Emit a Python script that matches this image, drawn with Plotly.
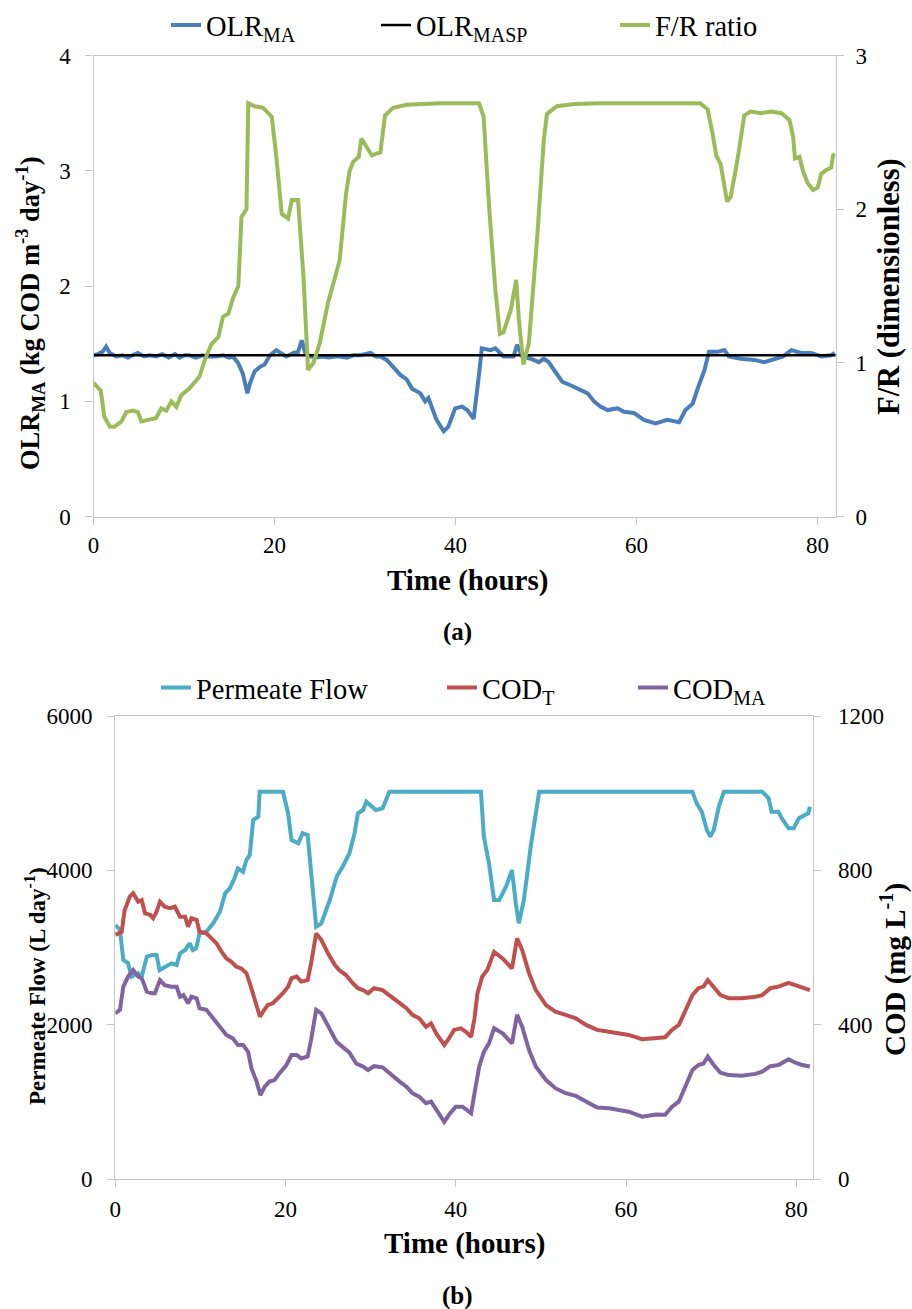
import plotly.graph_objects as go

# ---------------- Panel (a): loading rate and feed/recycle ratio ----------------
t_olr = [0.0, 0.5, 1.0, 1.4, 1.8, 2.5, 3.2, 3.8, 4.3, 4.9, 5.6, 6.2, 6.9, 7.6, 8.3, 9.0, 9.5,
         10.1, 10.6, 11.3, 12.0, 12.7, 13.6, 14.3, 15.0, 15.4, 16.0, 16.5, 17.0, 17.3, 17.8,
         18.4, 18.9, 19.5, 20.2, 20.8, 21.3, 22.1, 22.6, 23.0, 23.4, 23.9, 24.6, 25.3, 26.0,
         26.7, 27.2, 28.0, 28.7, 29.5, 30.6, 31.2, 31.7, 32.4, 33.1, 33.9, 34.6, 35.2, 36.1,
         36.65, 37.0, 37.4, 37.9, 38.7, 39.2, 39.95, 40.7, 41.3, 42.0, 42.6, 42.9, 43.85, 44.4,
         45.3, 46.4, 46.8, 47.35, 48.3, 49.2, 49.75, 50.3, 50.9, 51.8, 52.7, 53.8, 54.6, 55.3,
         56.0, 56.8, 57.9, 58.6, 59.7, 60.8, 62.1, 63.4, 64.7, 65.4, 66.2, 66.7, 67.5, 68.0,
         68.96, 69.7, 70.2, 71.5, 73.0, 74.1, 75.2, 76.2, 77.1, 78.2, 79.3, 80.4, 81.5, 81.9]
olr_ma = [1.40, 1.41, 1.43, 1.475, 1.42, 1.39, 1.40, 1.38, 1.40, 1.42, 1.39, 1.40, 1.39, 1.41,
          1.38, 1.41, 1.38, 1.40, 1.40, 1.38, 1.40, 1.39, 1.39, 1.40, 1.38, 1.39, 1.33, 1.24,
          1.07, 1.16, 1.26, 1.30, 1.32, 1.40, 1.445, 1.42, 1.39, 1.42, 1.43, 1.53, 1.42, 1.39,
          1.38, 1.39, 1.38, 1.39, 1.39, 1.38, 1.40, 1.40, 1.42, 1.39, 1.39, 1.36, 1.30, 1.23,
          1.19, 1.11, 1.07, 1.00, 1.03, 0.94, 0.84, 0.74, 0.78, 0.94, 0.955, 0.925, 0.85, 1.24,
          1.46, 1.445, 1.46, 1.39, 1.39, 1.49, 1.39, 1.37, 1.34, 1.37, 1.34, 1.27, 1.17, 1.14,
          1.10, 1.07, 1.00, 0.955, 0.925, 0.94, 0.91, 0.90, 0.84, 0.81, 0.84, 0.82, 0.925, 0.98,
          1.10, 1.27, 1.43, 1.43, 1.445, 1.39, 1.37, 1.36, 1.34, 1.37, 1.39, 1.445, 1.42, 1.42,
          1.39, 1.40, 1.42]

t_sp = [0.0, 82.0]
olr_sp = [1.4, 1.4]

t_fr = [0.0, 0.8, 1.2, 1.8, 2.3, 3.1, 3.6, 4.35, 4.9, 5.3, 6.0, 6.9, 7.5, 8.05, 8.6, 9.15, 9.7,
        10.6, 11.7, 12.3, 13.0, 13.8, 14.3, 14.9, 15.4, 16.0, 16.35, 16.9, 17.1, 17.8, 18.75,
        19.7, 20.2, 20.8, 21.5, 21.9, 22.6, 23.2, 23.7, 24.3, 25.0, 25.9, 26.7, 27.2, 27.9,
        28.3, 28.7, 29.3, 29.6, 30.75, 31.7, 32.2, 33.1, 34.6, 38.3, 42.6, 43.1, 43.7, 44.4,
        44.9, 45.3, 46.1, 46.7, 47.0, 47.5, 48.1, 49.0, 49.75, 50.1, 51.2, 53.1, 56.0, 67.0,
        67.85, 68.4, 68.8, 69.3, 69.7, 70.0, 70.4, 71.2, 71.9, 72.6, 73.8, 74.9, 76.0, 76.9,
        77.3, 77.5, 78.0, 78.4, 78.9, 79.5, 80.0, 80.4, 80.95, 81.5, 81.7, 81.9]
fr_ratio = [0.87, 0.82, 0.65, 0.585, 0.585, 0.62, 0.68, 0.69, 0.68, 0.62, 0.63, 0.64, 0.705, 0.69,
            0.75, 0.715, 0.79, 0.835, 0.91, 1.02, 1.12, 1.17, 1.30, 1.32, 1.42, 1.50, 1.95, 2.00,
            2.69, 2.67, 2.66, 2.60, 2.34, 1.97, 1.94, 2.06, 2.06, 1.56, 0.955, 1.00, 1.13, 1.39,
            1.56, 1.67, 2.10, 2.25, 2.31, 2.34, 2.46, 2.35, 2.37, 2.61, 2.66, 2.68, 2.69, 2.69,
            2.60, 2.02, 1.475, 1.19, 1.20, 1.345, 1.54, 1.28, 0.99, 1.13, 1.80, 2.45, 2.62, 2.67,
            2.685, 2.69, 2.69, 2.65, 2.49, 2.35, 2.29, 2.15, 2.05, 2.08, 2.34, 2.61, 2.635, 2.625,
            2.635, 2.625, 2.58, 2.47, 2.33, 2.34, 2.245, 2.17, 2.125, 2.14, 2.23, 2.255, 2.27,
            2.35, 2.36]

# ---------------- Panel (b): permeate flow and COD ----------------
t_flow = [0.0, 0.55, 0.94, 1.5, 1.9, 2.7, 3.1, 3.7, 4.3, 4.85, 5.2, 5.8, 6.6, 7.2, 7.6, 8.2, 8.75,
          9.1, 9.5, 9.9, 10.7, 11.5, 12.3, 12.9, 13.45, 14.0, 14.4, 15.0, 15.4, 15.8, 16.2, 16.8,
          16.96, 19.7, 20.3, 20.7, 21.5, 22.0, 22.6, 23.6, 24.2, 25.2, 26.0, 26.7, 27.5, 28.1,
          28.5, 29.1, 29.5, 30.6, 31.4, 32.2, 42.95, 43.3, 43.9, 44.5, 45.1, 45.9, 46.6, 47.05,
          47.4, 48.0, 48.8, 49.8, 67.8, 68.3, 68.9, 69.5, 69.9, 70.3, 70.9, 71.5, 76.0, 76.75,
          77.1, 77.9, 78.3, 79.1, 79.7, 80.3, 81.05, 81.4, 81.6]
permeate_flow = [3293, 3229, 2840, 2797, 2624, 2668, 2624, 2883, 2905, 2905, 2710, 2753, 2797,
                 2775, 2927, 2969, 3056, 2969, 2991, 3186, 3206, 3315, 3465, 3704, 3769, 3898,
                 4027, 3983, 4135, 4200, 4653, 4696, 5020, 5020, 4740, 4394, 4351, 4481, 4459,
                 3272, 3315, 3617, 3919, 4048, 4220, 4480, 4740, 4782, 4890, 4782, 4804, 5020,
                 5020, 4437, 4092, 3617, 3617, 3789, 4005, 3574, 3315, 3617, 4307, 5020, 5020,
                 4869, 4760, 4523, 4437, 4523, 4825, 5020, 5020, 4934, 4760, 4760, 4675, 4545,
                 4545, 4675, 4718, 4740, 4825]

t_cod = [0.0, 0.75, 1.1, 1.7, 2.1, 2.7, 3.1, 3.5, 4.1, 4.45, 4.85, 5.25, 5.8, 6.4, 7.0, 7.6, 8.2,
         8.55, 8.95, 9.55, 9.9, 10.7, 11.3, 11.9, 12.5, 13.05, 13.6, 14.2, 14.8, 15.4, 15.8, 16.4,
         17.0, 17.35, 17.9, 18.5, 19.1, 19.7, 20.3, 20.7, 21.3, 21.85, 22.6, 23.0, 23.6, 24.2,
         25.0, 25.8, 26.3, 27.1, 27.9, 28.5, 29.1, 29.7, 30.4, 31.4, 32.4, 33.4, 34.2, 34.9,
         35.7, 36.5, 37.1, 37.7, 38.65, 39.2, 39.8, 40.6, 41.2, 41.8, 42.2, 42.55, 43.1, 43.7,
         44.5, 45.5, 46.6, 47.2, 47.8, 48.6, 49.4, 50.6, 51.7, 52.9, 54.1, 55.3, 56.6, 58.0,
         59.2, 60.3, 61.9, 63.5, 64.6, 65.4, 66.2, 67.0, 67.8, 68.5, 69.1, 69.6, 70.3, 71.1,
         72.05, 73.6, 75.2, 76.0, 76.95, 77.9, 79.1, 79.9, 80.7, 81.6]
cod_t = [633, 641, 697, 732, 741, 719, 723, 689, 685, 676, 693, 719, 706, 702, 706, 680, 680,
         654, 676, 672, 641, 637, 624, 611, 589, 572, 564, 551, 546, 534, 508, 464, 421, 434,
         451, 456, 469, 482, 499, 521, 525, 512, 516, 559, 637, 620, 585, 555, 542, 529, 508,
         495, 490, 482, 495, 490, 473, 456, 443, 426, 417, 395, 404, 378, 348, 365, 387, 391,
         382, 369, 417, 482, 525, 542, 589, 572, 546, 624, 594, 534, 490, 451, 434, 426, 417,
         400, 387, 382, 378, 374, 363, 367, 368, 387, 400, 438, 477, 495, 499, 516, 499, 477,
         469, 469, 473, 477, 495, 499, 509, 503, 495, 490]

t_codma = [0.0, 0.55, 0.94, 1.5, 2.1, 2.7, 3.1, 3.7, 4.3, 4.65, 5.25, 5.8, 6.6, 7.2, 7.6, 8.0,
           8.55, 8.95, 9.55, 9.9, 10.7, 11.5, 12.3, 13.05, 13.8, 14.4, 15.0, 15.6, 16.0, 16.6,
           17.05, 17.55, 18.1, 18.7, 19.3, 20.1, 20.7, 21.3, 21.85, 22.6, 23.0, 23.6, 24.2, 25.0,
           26.0, 26.7, 27.5, 28.3, 29.1, 29.7, 30.4, 31.4, 32.4, 33.4, 34.2, 34.9, 35.7, 36.5,
           37.1, 37.7, 38.65, 39.2, 40.0, 40.8, 41.8, 42.2, 42.75, 43.3, 43.9, 44.5, 45.5, 46.6,
           47.2, 47.8, 48.6, 49.4, 50.6, 51.7, 52.9, 54.1, 55.3, 56.6, 58.0, 59.2, 60.3, 61.9,
           63.5, 64.6, 65.4, 66.2, 67.0, 67.8, 68.5, 69.1, 69.6, 70.3, 71.1, 72.05, 73.6, 75.2,
           76.0, 76.95, 77.9, 79.1, 79.9, 80.7, 81.6]
cod_ma = [430, 439, 499, 525, 542, 525, 521, 486, 482, 482, 516, 503, 499, 499, 473, 477, 456,
          473, 469, 443, 439, 417, 395, 374, 365, 348, 348, 330, 287, 253, 218, 240, 253, 257,
          275, 296, 322, 322, 313, 318, 361, 439, 430, 395, 356, 343, 328, 300, 292, 283, 293,
          290, 270, 253, 240, 223, 214, 197, 201, 179, 149, 167, 188, 188, 171, 223, 292, 330,
          352, 391, 378, 352, 426, 395, 335, 292, 257, 236, 223, 216, 201, 186, 184, 179, 175,
          162, 168, 167, 188, 201, 240, 283, 296, 300, 318, 296, 276, 270, 268, 273, 279, 293,
          296, 311, 302, 296, 292]

# ---------------- styling ----------------
W, H = 912, 1309
FONT = "Liberation Serif, Times New Roman, Times, serif"
AXIS_GREY = "#c4c4c4"
TICK_SIZE = 23
LEGEND_SIZE = 28.5
LW = 4


def px_x(p):
    return p / W


def px_y(p):
    return 1 - p / H


fig = go.Figure()

fig.add_trace(go.Scatter(x=t_olr, y=olr_ma, mode="lines", name="OLR<sub>MA</sub>",
                         line=dict(color="#4a7ebb", width=LW), xaxis="x", yaxis="y",
                         legend="legend"))
fig.add_trace(go.Scatter(x=t_sp, y=olr_sp, mode="lines", name="OLR<sub>MASP</sub>",
                         line=dict(color="#000000", width=2.5), xaxis="x", yaxis="y",
                         legend="legend2"))
fig.add_trace(go.Scatter(x=t_fr, y=fr_ratio, mode="lines", name="F/R ratio",
                         line=dict(color="#9bbb59", width=LW), xaxis="x", yaxis="y2",
                         legend="legend3"))

fig.add_trace(go.Scatter(x=t_flow, y=permeate_flow, mode="lines", name="Permeate Flow",
                         line=dict(color="#4bacc6", width=LW), xaxis="x2", yaxis="y3",
                         legend="legend4"))
fig.add_trace(go.Scatter(x=t_cod, y=cod_t, mode="lines", name="COD<sub>T</sub>",
                         line=dict(color="#c0504d", width=LW), xaxis="x2", yaxis="y4",
                         legend="legend5"))
fig.add_trace(go.Scatter(x=t_codma, y=cod_ma, mode="lines", name="COD<sub>MA</sub>",
                         line=dict(color="#8064a2", width=LW), xaxis="x2", yaxis="y4",
                         legend="legend6"))

tickfont = dict(family=FONT, size=TICK_SIZE, color="#000000")
common_axis = dict(showgrid=False, zeroline=False, showline=True, linecolor=AXIS_GREY,
                   linewidth=1.3, ticks="outside", ticklen=7, tickcolor=AXIS_GREY,
                   tickwidth=1.3, tickfont=tickfont, fixedrange=True)

# plot-area boxes (pixels): left, right, top, bottom
top_box = (93.5, 835.7, 55.5, 516.7)
bot_box = (115.3, 813.3, 716.0, 1179.3)


def legend_at(xp, yp, anchor="middle"):
    return dict(x=px_x(xp), y=px_y(yp), xanchor="left", yanchor=anchor,
                orientation="h", bgcolor="rgba(0,0,0,0)", borderwidth=0,
                font=dict(family=FONT, size=LEGEND_SIZE, color="#000000"),
                itemwidth=30, tracegroupgap=0)


fig.update_layout(
    template="none",
    width=W, height=H,
    margin=dict(l=0, r=0, t=0, b=0),
    paper_bgcolor="white", plot_bgcolor="white",
    font=dict(family=FONT, color="#000000"),
    xaxis=dict(domain=[px_x(top_box[0]), px_x(top_box[1])], anchor="y",
               range=[0, 82], tickvals=[0, 20, 40, 60, 80], mirror=True,
               ticklabelstandoff=1, **common_axis),
    yaxis=dict(domain=[px_y(top_box[3]), px_y(top_box[2])], anchor="x",
               range=[0, 4], tickvals=[0, 1, 2, 3, 4], ticklabelstandoff=10, **common_axis),
    yaxis2=dict(overlaying="y", side="right", anchor="x",
                range=[0, 3], tickvals=[0, 1, 2, 3], ticklabelstandoff=7, **common_axis),
    xaxis2=dict(domain=[px_x(bot_box[0]), px_x(bot_box[1])], anchor="y3",
                range=[0, 82], tickvals=[0, 20, 40, 60, 80], mirror=True,
                ticklabelstandoff=2, **common_axis),
    yaxis3=dict(domain=[px_y(bot_box[3]), px_y(bot_box[2])], anchor="x2",
                range=[0, 6000], tickvals=[0, 2000, 4000, 6000], ticklabelstandoff=10,
                **common_axis),
    yaxis4=dict(overlaying="y3", side="right", anchor="x2",
                range=[0, 1200], tickvals=[0, 400, 800, 1200], ticklabelstandoff=12,
                **common_axis),
    legend=legend_at(166, 0, "top"),
    legend2=legend_at(376, 0, "top"),
    legend3=legend_at(615, 0, "top"),
    legend4=legend_at(156, 688),
    legend5=legend_at(442, 688),
    legend6=legend_at(633, 688),
    showlegend=True,
)

annotations = [
    dict(text="<b>OLR<sub>MA</sub> (kg COD m<sup>-3</sup> day<sup>-1</sup>)</b>",
         x=30, y=313, angle=-90, size=26.5),
    dict(text="<b>F/R (dimensionless)</b>", x=889, y=287, angle=-90, size=30.5),
    dict(text="<b>Time (hours)</b>", x=467, y=580, angle=0, size=29),
    dict(text="<b>(a)</b>", x=458, y=632, angle=0, size=25),
    dict(text="<b>Permeate Flow (L day<sup>-1</sup>)</b>", x=35, y=986, angle=-90, size=23),
    dict(text="<b>COD (mg L<sup>-1</sup>)</b>", x=893, y=970, angle=-90, size=29),
    dict(text="<b>Time (hours)</b>", x=465, y=1243, angle=0, size=29),
    dict(text="<b>(b)</b>", x=458, y=1296, angle=0, size=25),
]
for a in annotations:
    fig.add_annotation(xref="paper", yref="paper", xanchor="center", yanchor="middle",
                       showarrow=False, text=a["text"], x=px_x(a["x"]), y=px_y(a["y"]),
                       textangle=a["angle"],
                       font=dict(family=FONT, size=a["size"], color="#000000"))

fig.write_html("out.html")
